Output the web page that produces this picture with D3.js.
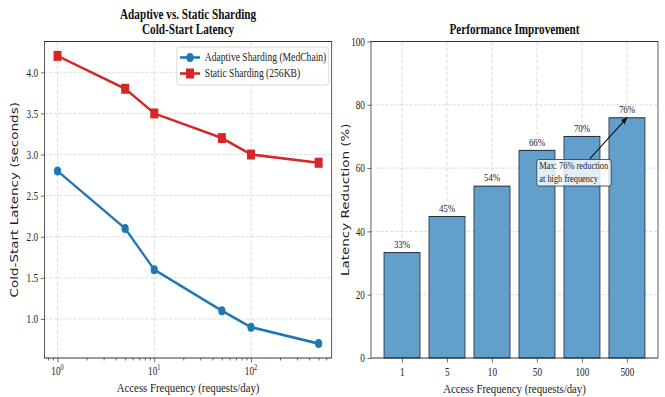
<!DOCTYPE html>
<html><head><meta charset="utf-8">
<script src="https://cdn.jsdelivr.net/npm/d3@7/dist/d3.min.js"></script>
<style>
html,body{margin:0;padding:0;background:#fff;}
svg{display:block;}
.serif{font-family:"Liberation Serif","Times New Roman",serif;}
.sans{font-family:"DejaVu Sans",sans-serif;}
</style></head>
<body>
<svg id="chart"></svg>
<script>
// ---- data ----
const freqs = [1, 5, 10, 50, 100, 500];
const adaptive = [2.8, 2.1, 1.6, 1.1, 0.9, 0.7];
const staticSharding = [4.2, 3.8, 3.5, 3.2, 3.0, 2.9];
const reduction = [33.3, 44.7, 54.3, 65.6, 70.0, 75.9];
const freqLabels = ["1", "5", "10", "50", "100", "500"];
const leftYTicks = [1.0, 1.5, 2.0, 2.5, 3.0, 3.5, 4.0];
const rightYTicks = [0, 20, 40, 60, 80, 100];
const logMajor = [1, 10, 100];
const logMajorExp = ["0", "1", "2"];
const seriesNames = ["Adaptive Sharding (MedChain)", "Static Sharding (256KB)"];
const titles = [["Adaptive vs. Static Sharding", "Cold-Start Latency"], ["Performance Improvement"]];
const annotationLines = ["Max: 76% reduction", "at high frequency"];

// ---- layout ----
const sx = 0.8;
const W = 665 / sx, H = 397;
const svg = d3.select("#chart").attr("width", 665).attr("height", 397)
  .attr("viewBox", `0 0 ${W} ${H}`).attr("preserveAspectRatio", "none");

const topY = 41.5, bottomY = 358;
const L1 = 55.6, R1 = 414.6, L2 = 463.7, R2 = 822.5;
const blue = "#1f77b4", red = "#d62728";
const gridColor = "#d0d0d0";
const spineColor = "#333";

// ---- left panel ----
const lgLo = Math.log10(d3.min(freqs)), lgHi = Math.log10(d3.max(freqs));
const lgPad = 0.05 * (lgHi - lgLo);
const x1 = d3.scaleLog().domain([Math.pow(10, lgLo - lgPad), Math.pow(10, lgHi + lgPad)]).range([L1, R1]);
const yMin = d3.min(adaptive), yMax = d3.max(staticSharding);
const yPad = 0.05 * (yMax - yMin);
const y1 = d3.scaleLinear().domain([yMin - yPad, yMax + yPad]).range([bottomY, topY]);

const g1 = svg.append("g");
// grid
g1.selectAll(".hg").data(leftYTicks).enter().append("line")
  .attr("x1", L1).attr("x2", R1).attr("y1", d => y1(d)).attr("y2", d => y1(d))
  .attr("stroke", gridColor).attr("stroke-dasharray", "4,2").attr("stroke-width", 0.8);
g1.selectAll(".vg").data(logMajor).enter().append("line")
  .attr("x1", d => x1(d)).attr("x2", d => x1(d)).attr("y1", topY).attr("y2", bottomY)
  .attr("stroke", gridColor).attr("stroke-dasharray", "4,2").attr("stroke-width", 0.8);

// axes
const ax1 = g1.append("g").attr("transform", `translate(0,${bottomY})`)
  .call(d3.axisBottom(x1).tickValues(logMajor).tickFormat("").tickSize(4.5).tickSizeOuter(0));
const minors = [];
[0.1, 1, 10, 100].forEach(b => { for (let k = 2; k <= 9; k++) { const v = b * k; if (v >= x1.domain()[0] && v <= x1.domain()[1]) minors.push(v); } });
const axm = g1.append("g").attr("transform", `translate(0,${bottomY})`)
  .call(d3.axisBottom(x1).tickValues(minors).tickFormat("").tickSize(2.5).tickSizeOuter(0));
[ax1, axm].forEach(a => { a.select(".domain").remove(); a.selectAll("line").attr("stroke", spineColor).attr("stroke-width", 0.8); });
const xl = g1.selectAll(".xtl").data(logMajor).enter().append("text").attr("class", "serif")
  .attr("x", d => x1(d)).attr("y", 375.5).attr("text-anchor", "middle").attr("font-size", 11.5).attr("fill", "#222");
xl.append("tspan").text("10");
xl.append("tspan").attr("dy", -5).attr("font-size", 8).text((d, i) => logMajorExp[i]);

const ay1 = g1.append("g").attr("transform", `translate(${L1},0)`)
  .call(d3.axisLeft(y1).tickValues(leftYTicks).tickFormat(d3.format(".1f")).tickSize(4.5).tickPadding(3.5).tickSizeOuter(0));
ay1.select(".domain").remove();
ay1.selectAll("line").attr("stroke", spineColor).attr("stroke-width", 0.8);
ay1.selectAll("text").attr("class", "serif").attr("font-size", 11.5).attr("fill", "#222");

// lines
const line1 = d3.line().x((d, i) => x1(freqs[i])).y(d => y1(d));
g1.append("path").datum(adaptive).attr("d", line1).attr("fill", "none").attr("stroke", blue).attr("stroke-width", 2.6);
g1.selectAll(".ma").data(adaptive).enter().append("circle")
  .attr("cx", (d, i) => x1(freqs[i])).attr("cy", d => y1(d)).attr("r", 4.5).attr("fill", blue);
g1.append("path").datum(staticSharding).attr("d", line1).attr("fill", "none").attr("stroke", red).attr("stroke-width", 2.6);
g1.selectAll(".ms").data(staticSharding).enter().append("rect")
  .attr("x", (d, i) => x1(freqs[i]) - 5).attr("y", d => y1(d) - 5).attr("width", 10).attr("height", 10).attr("fill", red);

// spines
g1.append("rect").attr("x", L1).attr("y", topY).attr("width", R1 - L1).attr("height", bottomY - topY)
  .attr("fill", "none").attr("stroke", spineColor).attr("stroke-width", 1);

// legend
const lg = g1.append("g");
lg.append("rect").attr("x", 221).attr("y", 47).attr("width", 190).attr("height", 38).attr("rx", 3)
  .attr("fill", "#fff").attr("fill-opacity", 0.85).attr("stroke", "#cccccc").attr("stroke-width", 0.8);
const legColors = [blue, red];
seriesNames.forEach((nm, i) => {
  const yy = 57.5 + i * 16;
  lg.append("line").attr("x1", 225).attr("x2", 250).attr("y1", yy).attr("y2", yy).attr("stroke", legColors[i]).attr("stroke-width", 2.6);
  if (i === 0) lg.append("circle").attr("cx", 237.5).attr("cy", yy).attr("r", 4.5).attr("fill", blue);
  else lg.append("rect").attr("x", 232.5).attr("y", yy - 5).attr("width", 10).attr("height", 10).attr("fill", red);
  lg.append("text").attr("class", "serif").attr("x", 256).attr("y", yy + 4).attr("font-size", 12).attr("fill", "#222").text(nm);
});

// labels
const c1 = (L1 + R1) / 2;
titles[0].forEach((t, i) => g1.append("text").attr("class", "serif").attr("x", c1).attr("y", 19.5 + i * 15)
  .attr("text-anchor", "middle").attr("font-size", 14).attr("font-weight", "bold").attr("fill", "#111").text(t));
g1.append("text").attr("class", "serif").attr("x", c1).attr("y", 392.5).attr("text-anchor", "middle")
  .attr("font-size", 13.5).attr("fill", "#222").text("Access Frequency (requests/day)");
g1.append("text").attr("class", "sans").attr("transform", `translate(22,${(topY + bottomY) / 2}) rotate(-90)`)
  .attr("text-anchor", "middle").attr("font-size", 13.5).attr("fill", "#222").text("Cold-Start Latency (seconds)");

// ---- right panel ----
const n = freqLabels.length;
const bw = 0.8;
const xPad = 0.05 * ((n - 1 + bw / 2) - (-bw / 2));
const x2 = d3.scaleLinear().domain([-bw / 2 - xPad, n - 1 + bw / 2 + xPad]).range([L2, R2]);
const y2 = d3.scaleLinear().domain([0, 100]).range([bottomY, topY]);
const g2 = svg.append("g");
g2.selectAll(".hg").data(rightYTicks.filter(d => d > 0 && d < 100)).enter().append("line")
  .attr("x1", L2).attr("x2", R2).attr("y1", d => y2(d)).attr("y2", d => y2(d))
  .attr("stroke", gridColor).attr("stroke-dasharray", "4,2").attr("stroke-width", 0.8);
g2.selectAll(".vg").data(d3.range(n)).enter().append("line")
  .attr("x1", d => x2(d)).attr("x2", d => x2(d)).attr("y1", topY).attr("y2", bottomY)
  .attr("stroke", gridColor).attr("stroke-dasharray", "4,2").attr("stroke-width", 0.8);

g2.selectAll(".bar").data(reduction).enter().append("rect")
  .attr("x", (d, i) => x2(i - bw / 2)).attr("width", (d, i) => x2(i + bw / 2) - x2(i - bw / 2))
  .attr("y", d => y2(d)).attr("height", d => y2(0) - y2(d))
  .attr("fill", "#62a0cb").attr("stroke", "#1c2a3a").attr("stroke-width", 1);
g2.selectAll(".bl").data(reduction).enter().append("text").attr("class", "serif")
  .attr("x", (d, i) => x2(i)).attr("y", d => y2(d + 1) - 1.5).attr("text-anchor", "middle")
  .attr("font-size", 11).attr("fill", "#222").text(d => d3.format(".0f")(d) + "%");

const ax2 = g2.append("g").attr("transform", `translate(0,${bottomY})`)
  .call(d3.axisBottom(x2).tickValues(d3.range(n)).tickFormat((d) => freqLabels[d]).tickSize(4.5).tickPadding(5).tickSizeOuter(0));
ax2.select(".domain").remove();
ax2.selectAll("line").attr("stroke", spineColor).attr("stroke-width", 0.8);
ax2.selectAll("text").attr("class", "serif").attr("font-size", 11.5).attr("fill", "#222");
const ay2 = g2.append("g").attr("transform", `translate(${L2},0)`)
  .call(d3.axisLeft(y2).tickValues(rightYTicks).tickFormat(d3.format("d")).tickSize(4.5).tickPadding(3).tickSizeOuter(0));
ay2.select(".domain").remove();
ay2.selectAll("line").attr("stroke", spineColor).attr("stroke-width", 0.8);
ay2.selectAll("text").attr("class", "serif").attr("font-size", 11.5).attr("fill", "#222");

g2.append("rect").attr("x", L2).attr("y", topY).attr("width", R2 - L2).attr("height", bottomY - topY)
  .attr("fill", "none").attr("stroke", spineColor).attr("stroke-width", 1);

// annotation
const maxI = reduction.indexOf(d3.max(reduction));
const ax = x2(maxI), ay = y2(reduction[maxI]);
const tx = x2(3.05), ty = y2(59);
const defs = svg.append("defs");
defs.append("marker").attr("id", "arr").attr("viewBox", "0 0 10 10").attr("refX", 9).attr("refY", 5)
  .attr("markerWidth", 7).attr("markerHeight", 7).attr("orient", "auto")
  .append("path").attr("d", "M0,1 L10,5 L0,9 z").attr("fill", "#111");
g2.append("line").attr("x1", 737).attr("y1", 159).attr("x2", ax).attr("y2", ay)
  .attr("stroke", "#111").attr("stroke-width", 1.1).attr("marker-end", "url(#arr)");
g2.append("rect").attr("x", 671).attr("y", 159.5).attr("width", 93).attr("height", 26.5).attr("rx", 2.5)
  .attr("fill", "#fff").attr("fill-opacity", 0.82).attr("stroke", "#333").attr("stroke-width", 0.9);
annotationLines.forEach((t, i) => g2.append("text").attr("class", "serif").attr("x", tx)
  .attr("y", 169 + i * 13).attr("font-size", 10.5).attr("fill", "#222").text(t));

const c2 = (L2 + R2) / 2;
g2.append("text").attr("class", "serif").attr("x", c2).attr("y", 34.5).attr("text-anchor", "middle")
  .attr("font-size", 14).attr("font-weight", "bold").attr("fill", "#111").text(titles[1][0]);
g2.append("text").attr("class", "serif").attr("x", c2).attr("y", 393).attr("text-anchor", "middle")
  .attr("font-size", 13.5).attr("fill", "#222").text("Access Frequency (requests/day)");
g2.append("text").attr("class", "sans").attr("transform", `translate(436,${(topY + bottomY) / 2}) rotate(-90)`)
  .attr("text-anchor", "middle").attr("font-size", 13.5).attr("fill", "#222").text("Latency Reduction (%)");
</script>
</body></html>
